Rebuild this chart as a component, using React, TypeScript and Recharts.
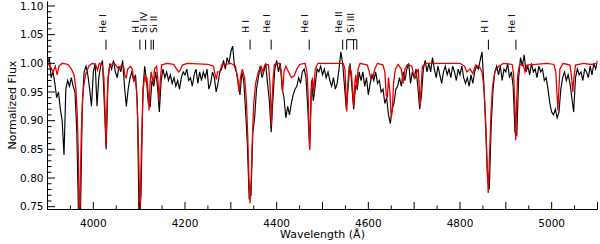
import React from 'react';
import { ComposedChart, Line, XAxis, YAxis, ReferenceLine, ReferenceDot } from 'recharts';

// Observed spectrum: uniform grid 3900..5100 Å, 4 Å step
const OBS_START = 3900;
const OBS_STEP = 4;
const obsFlux = [
  // 3900-3996
  1.00, 1.01, 0.975, 0.985, 0.965, 0.94, 0.95, 0.92, 0.90, 0.84, 0.955, 0.97, 0.96, 0.975, 0.96, 0.95, 0.88, 0.72, 0.74, 0.93, 0.985, 0.995, 0.98, 0.955, 0.925,
  // 4000-4096
  0.985, 1.00, 0.925, 0.975, 0.995, 1.005, 0.93, 0.85, 0.97, 1.00, 0.99, 1.005, 0.985, 0.975, 0.995, 0.985, 1.005, 0.96, 0.925, 0.955, 0.975, 0.985, 0.97, 0.98, 0.93,
  // 4100-4196
  0.72, 0.77, 0.95, 0.995, 0.97, 0.93, 0.925, 0.97, 0.96, 0.985, 0.96, 0.915, 0.97, 0.99, 0.975, 0.985, 0.97, 0.98, 0.965, 0.975, 0.96, 0.97, 0.955, 0.975, 0.985,
  // 4200-4296
  0.98, 0.99, 0.97, 0.975, 0.96, 0.98, 0.99, 0.965, 0.985, 0.97, 0.985, 0.975, 0.99, 0.955, 0.965, 0.985, 0.975, 0.95, 0.965, 0.985, 0.99, 1.005, 0.99, 1.01, 1.00,
  // 4300-4396
  1.02, 1.03, 0.995, 0.985, 0.965, 0.945, 0.985, 0.97, 0.92, 0.86, 0.765, 0.77, 0.88, 0.905, 0.955, 0.975, 0.995, 0.975, 0.985, 1.00, 0.965, 0.935, 0.88, 0.94, 0.99,
  // 4400-4496
  1.005, 0.985, 1.00, 0.955, 0.94, 0.905, 0.925, 0.91, 0.93, 0.945, 0.955, 0.96, 0.975, 0.965, 0.985, 0.99, 0.975, 0.92, 0.85, 0.97, 0.935, 0.96, 0.99, 0.985, 0.995,
  // 4500-4596
  0.98, 0.99, 0.975, 0.985, 0.97, 0.96, 0.975, 0.955, 0.965, 0.99, 1.02, 1.00, 0.96, 0.92, 0.96, 1.00, 0.96, 0.92, 0.96, 0.955, 0.985, 0.97, 0.985, 0.96, 0.975,
  // 4600-4696
  0.945, 0.965, 0.98, 0.97, 0.985, 0.965, 0.97, 0.95, 0.955, 0.93, 0.94, 0.91, 0.895, 0.92, 0.93, 0.955, 0.96, 0.975, 0.96, 0.985, 0.97, 0.99, 1.00, 0.965, 0.985,
  // 4700-4796
  0.975, 0.99, 0.96, 0.92, 0.945, 0.99, 1.005, 0.985, 1.00, 0.985, 1.01, 0.99, 0.975, 0.995, 0.98, 0.965, 0.985, 0.995, 0.98, 0.99, 0.975, 0.995, 0.985, 0.97, 0.99,
  // 4800-4896
  0.98, 0.995, 0.975, 0.965, 0.975, 0.96, 0.98, 0.965, 0.985, 0.995, 0.99, 1.005, 1.02, 0.965, 0.89, 0.80, 0.78, 0.89, 0.955, 0.985, 0.995, 0.98, 0.995, 0.97, 0.99,
  // 4900-4996
  0.985, 1.00, 0.975, 0.985, 0.96, 0.88, 0.875, 0.975, 1.01, 0.995, 1.015, 0.985, 0.995, 0.98, 1.00, 0.985, 0.99, 0.975, 0.995, 0.985, 0.99, 0.97, 0.975, 0.955, 0.93,
  // 5000-5100
  0.915, 0.91, 0.92, 0.905, 0.915, 0.955, 0.975, 0.985, 0.97, 0.98, 0.965, 0.94, 0.915, 0.975, 0.99, 0.98, 0.985, 0.97, 0.99, 0.985, 0.975, 0.995, 0.98, 1.00, 0.99, 1.005,
];

// Model spectrum (red)
const modelWave = [
  3900, 3906, 3912, 3917, 3921, 3925, 3932, 3945, 3952, 3958, 3962, 3965, 3967, 3968.5, 3970, 3971.5, 3973, 3975, 3978, 3983, 3990, 3998,
  4005, 4009, 4013, 4020, 4023, 4025.5, 4027.5, 4029.5, 4032, 4036, 4046, 4055, 4062, 4066, 4069, 4072, 4075, 4081, 4085, 4088.5, 4091, 4094, 4097, 4099.5,
  4101.7, 4104, 4106.5, 4109, 4112, 4114.5, 4117, 4119.5, 4121.5, 4123.5, 4126, 4128.5, 4131, 4133.5, 4138, 4141, 4143.5, 4146, 4149, 4160, 4175, 4182, 4186, 4190, 4194,
  4205, 4250, 4262, 4266, 4268.5, 4271, 4276, 4280, 4300, 4310, 4315, 4318, 4321, 4325, 4330, 4334, 4337, 4339.5, 4342, 4344.5, 4347, 4350, 4354, 4360, 4366, 4370, 4374,
  4382, 4385, 4387, 4388.5, 4390, 4392, 4395, 4406, 4410, 4413, 4416, 4420, 4426, 4432, 4438, 4444, 4450, 4462, 4466, 4468.5, 4470.5, 4472, 4473.5, 4475.5, 4478, 4481, 4484, 4490,
  4545, 4549, 4551, 4553, 4555, 4558, 4563, 4565.5, 4568, 4570.5, 4572.5, 4575, 4577.5, 4582, 4598, 4602, 4606, 4610, 4614, 4620,
  4632, 4636, 4639, 4641.5, 4644, 4647, 4650, 4652.5, 4655, 4659, 4665, 4672, 4676, 4680, 4685, 4695, 4699, 4703, 4706, 4709, 4711, 4713, 4715, 4718, 4725,
  4800, 4810, 4815, 4822, 4828, 4834, 4842, 4848, 4852, 4855.5, 4858.5, 4861.5, 4864.5, 4867.5, 4871, 4876, 4884, 4895,
  4914, 4917, 4919.5, 4921.5, 4923.5, 4926, 4930, 4938, 4942, 4946, 4990,
  5005, 5009, 5011.5, 5013.5, 5015.5, 5018, 5025, 5040, 5043.5, 5046, 5048.5, 5052, 5070, 5085, 5100,
];
const modelFlux = [
  1.0, 0.995, 0.985, 0.995, 0.98, 0.995, 1.0, 0.998, 0.99, 0.98, 0.955, 0.91, 0.85, 0.78, 0.72, 0.78, 0.85, 0.91, 0.955, 0.98, 0.995, 1.0,
  0.998, 0.988, 1.0, 0.997, 0.975, 0.92, 0.855, 0.92, 0.975, 0.997, 1.0, 0.99, 0.997, 0.995, 0.978, 0.975, 0.99, 0.995, 0.99, 0.968, 0.975, 0.955, 0.9, 0.82,
  0.72, 0.82, 0.9, 0.955, 0.98, 0.97, 0.975, 0.95, 0.918, 0.96, 0.985, 0.975, 0.965, 0.99, 0.995, 0.97, 0.935, 0.97, 0.997, 1.0, 0.998, 0.99, 0.985, 0.988, 0.997,
  1.0, 0.998, 0.995, 0.98, 0.972, 0.985, 0.985, 0.997, 1.0, 0.995, 0.975, 0.95, 0.975, 0.99, 0.975, 0.935, 0.87, 0.8, 0.756, 0.8, 0.87, 0.93, 0.965, 0.985, 0.995, 0.985, 0.997,
  0.998, 0.97, 0.93, 0.892, 0.93, 0.97, 0.998, 1.0, 0.985, 0.95, 0.985, 0.995, 0.985, 0.975, 0.978, 0.99, 0.998, 1.0, 0.985, 0.95, 0.89, 0.849, 0.89, 0.95, 0.975, 0.95, 0.99, 1.0,
  1.0, 0.99, 0.95, 0.916, 0.96, 0.995, 0.985, 0.955, 0.925, 0.965, 0.98, 0.955, 0.99, 1.0, 0.997, 0.985, 0.972, 0.975, 0.99, 1.0,
  0.997, 0.985, 0.945, 0.94, 0.975, 0.95, 0.905, 0.92, 0.965, 0.99, 0.998, 0.99, 0.965, 0.99, 0.998, 0.995, 0.98, 0.975, 0.985, 0.99, 0.96, 0.924, 0.955, 0.995, 1.0,
  1.0, 0.995, 0.985, 0.99, 0.982, 0.997, 0.995, 0.985, 0.96, 0.91, 0.84, 0.774, 0.84, 0.91, 0.96, 0.985, 0.995, 1.0,
  0.998, 0.98, 0.93, 0.866, 0.93, 0.98, 0.998, 0.997, 0.985, 0.997, 1.0,
  0.998, 0.985, 0.95, 0.918, 0.95, 0.99, 1.0, 0.997, 0.975, 0.95, 0.975, 0.997, 1.0, 0.998, 1.0,
];

// Axes
const xTicks = [3900, 3950, 4000, 4050, 4100, 4150, 4200, 4250, 4300, 4350, 4400, 4450, 4500, 4550, 4600, 4650, 4700, 4750, 4800, 4850, 4900, 4950, 5000, 5050, 5100];
const xLabelTicks = [4000, 4200, 4400, 4600, 4800, 5000];
const yTicks = [0.75, 0.76, 0.77, 0.78, 0.79, 0.80, 0.81, 0.82, 0.83, 0.84, 0.85, 0.86, 0.87, 0.88, 0.89, 0.90, 0.91, 0.92, 0.93, 0.94, 0.95, 0.96, 0.97, 0.98, 0.99, 1.00, 1.01, 1.02, 1.03, 1.04, 1.05, 1.06, 1.07, 1.08, 1.09, 1.10];
const yLabelTicks = [0.75, 0.80, 0.85, 0.90, 0.95, 1.00, 1.05, 1.10];
const X_DOMAIN = [3900, 5100];
const Y_DOMAIN = [0.7451, 1.1078];

// Line identifications
const idNames = ['He I', 'H I', 'Si IV', 'Si II', 'H I', 'He I', 'He I', 'He II', 'Si III', 'H I', 'He I'];
const idLabelWave = [4027, 4100.5, 4118, 4138.5, 4340, 4386, 4469, 4542, 4568, 4860, 4920];
const idTickWave = [4027.6, 4101.6, 4114, 4126, 4131, 4342, 4388, 4471, 4544, 4552.8, 4567.8, 4574.8, 4862, 4922];
const siIIIBracket = [4552.8, 4574.8];
const ID_LABEL_Y = 1.0529;
const ID_TICK_TOP = 1.0412;
const ID_TICK_BOTTOM = 1.0238;

const FONT = '"DejaVu Sans", Verdana, sans-serif';

const obsData = obsFlux.map((f, i) => ({ w: OBS_START + i * OBS_STEP, f }));
const modelData = modelWave.map((w, i) => ({ w, f: modelFlux[i] }));

const MAJOR = 7.5;
const MINOR = 4;

const BottomTick = (props: any) => {
  const { x, y, payload } = props;
  const v = payload.value;
  const isLab = xLabelTicks.includes(v);
  const len = v % 100 === 0 ? MAJOR : MINOR;
  return (
    <g>
      <line x1={x} x2={x} y1={y} y2={y - len} stroke="#000" strokeWidth={1} />
      {isLab && (
        <text x={x} y={y + 17.5} textAnchor="middle" fontSize={10.5} fontFamily={FONT} fill="#000">
          {v}
        </text>
      )}
    </g>
  );
};

const TopTick = (props: any) => {
  const { x, y, payload } = props;
  const v = payload.value;
  const len = v % 100 === 0 ? MAJOR : MINOR;
  return <line x1={x} x2={x} y1={y} y2={y + len} stroke="#000" strokeWidth={1} />;
};

const isYMajor = (v: number) => Math.round(v * 100) % 5 === 0;

const LeftTick = (props: any) => {
  const { x, y, payload } = props;
  const v = payload.value;
  const major = isYMajor(v);
  const isLab = yLabelTicks.some((t) => Math.abs(t - v) < 1e-6);
  return (
    <g>
      <line x1={x} x2={x + (major ? MAJOR : MINOR)} y1={y} y2={y} stroke="#000" strokeWidth={1} />
      {isLab && (
        <text x={x - 4} y={y} dy="0.36em" textAnchor="end" fontSize={10.5} fontFamily={FONT} fill="#000">
          {v.toFixed(2)}
        </text>
      )}
    </g>
  );
};

const RightTick = (props: any) => {
  const { x, y, payload } = props;
  const major = isYMajor(payload.value);
  return <line x1={x} x2={x - (major ? MAJOR : MINOR)} y1={y} y2={y} stroke="#000" strokeWidth={1} />;
};

const makeLabelShape = (text: string) => (p: any) => (
  <text
    transform={`translate(${p.cx},${p.cy}) rotate(-90)`}
    fontSize={9.5}
    fontFamily={FONT}
    fill="#000"
    textAnchor="start"
  >
    {text}
  </text>
);

export default function App() {
  return (
    <div style={{ position: 'absolute', left: 0, top: 0, width: 600, height: 244, background: '#fff' }}>
      <ComposedChart
        width={600}
        height={244}
        margin={{ top: 1.5, right: 2.5, bottom: 0, left: 7.5 }}
      >
        <XAxis
          xAxisId="b"
          dataKey="w"
          type="number"
          orientation="bottom"
          domain={X_DOMAIN}
          ticks={xTicks}
          interval={0}
          allowDataOverflow
          height={34.5}
          tickLine={false}
          tickSize={0}
          tickMargin={0}
          tick={<BottomTick />}
          axisLine={{ stroke: '#000', strokeWidth: 1 }}
        />
        <XAxis
          xAxisId="t"
          dataKey="w"
          type="number"
          orientation="top"
          domain={X_DOMAIN}
          ticks={xTicks}
          interval={0}
          allowDataOverflow
          height={0}
          tickLine={false}
          tickSize={0}
          tickMargin={0}
          tick={<TopTick />}
          axisLine={{ stroke: '#000', strokeWidth: 1 }}
        />
        <YAxis
          yAxisId="l"
          type="number"
          orientation="left"
          domain={Y_DOMAIN}
          ticks={yTicks}
          interval={0}
          allowDataOverflow
          width={40}
          tickLine={false}
          tickSize={0}
          tickMargin={0}
          tick={<LeftTick />}
          axisLine={{ stroke: '#000', strokeWidth: 1 }}
        />
        <YAxis
          yAxisId="r"
          type="number"
          orientation="right"
          domain={Y_DOMAIN}
          ticks={yTicks}
          interval={0}
          allowDataOverflow
          width={0}
          tickLine={false}
          tickSize={0}
          tickMargin={0}
          tick={<RightTick />}
          axisLine={{ stroke: '#000', strokeWidth: 1 }}
        />
        <Line
          xAxisId="b"
          yAxisId="l"
          data={obsData}
          dataKey="f"
          type="linear"
          stroke="#000"
          strokeWidth={1.15}
          dot={false}
          isAnimationActive={false}
        />
        <Line
          xAxisId="b"
          yAxisId="l"
          data={modelData}
          dataKey="f"
          type="linear"
          stroke="#e60000"
          strokeWidth={1.3}
          dot={false}
          isAnimationActive={false}
        />
        {idTickWave.map((w, i) => (
          <ReferenceLine
            key={'t' + i}
            xAxisId="b"
            yAxisId="l"
            segment={[{ x: w, y: ID_TICK_TOP }, { x: w, y: ID_TICK_BOTTOM }]}
            stroke="#000"
            strokeWidth={1}
          />
        ))}
        <ReferenceLine
          xAxisId="b"
          yAxisId="l"
          segment={[{ x: siIIIBracket[0], y: ID_TICK_TOP }, { x: siIIIBracket[1], y: ID_TICK_TOP }]}
          stroke="#000"
          strokeWidth={1}
        />
        {idNames.map((n, i) => (
          <ReferenceDot
            key={'l' + i}
            xAxisId="b"
            yAxisId="l"
            x={idLabelWave[i]}
            y={ID_LABEL_Y}
            r={0}
            shape={makeLabelShape(n)}
          />
        ))}
      </ComposedChart>
      <svg
        width={600}
        height={244}
        style={{ position: 'absolute', left: 0, top: 0, pointerEvents: 'none' }}
      >
        <text
          transform="translate(16,105) rotate(-90)"
          textAnchor="middle"
          fontSize={11}
          fontFamily={FONT}
          fill="#000"
        >
          Normalized Flux
        </text>
        <text x={322.5} y={238} textAnchor="middle" fontSize={11} fontFamily={FONT} fill="#000">
          Wavelength (Å)
        </text>
      </svg>
    </div>
  );
}
